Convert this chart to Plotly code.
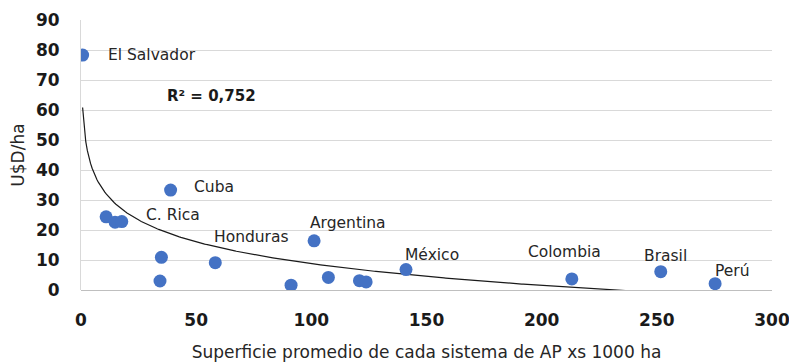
import numpy as np
import plotly.graph_objects as go

# Average surface of each protected-area system (x 1000 ha) vs. USD per ha
superficie = [0.7, 10.9, 14.8, 17.7, 34.9, 34.3, 38.9, 58.3, 91.2, 101.2,
              107.4, 120.9, 123.8, 141.1, 213.1, 251.7, 275.3]
usd_ha = [78.3, 24.4, 22.6, 22.8, 10.9, 3.0, 33.3, 9.1, 1.6, 16.4,
          4.2, 3.1, 2.7, 6.8, 3.7, 6.1, 2.1]

# Country labels and where their text sits (data units)
paises = ["El Salvador", "Cuba", "C. Rica", "Honduras", "Argentina",
          "México", "Colombia", "Brasil", "Perú"]
pais_x = [11.0, 48.2, 27.2, 57.0, 98.4, 140.0, 193.0, 243.6, 274.4]
pais_y = [78.3, 34.4, 25.0, 17.8, 22.2, 11.7, 12.6, 11.4, 6.4]

# Logarithmic trend line y = a + b*ln(x)
tend_a = 57.1
tend_b = -10.49
r2_texto = "R² = 0,752"

x_ticks = [0, 50, 100, 150, 200, 250, 300]
y_ticks = [0, 10, 20, 30, 40, 50, 60, 70, 80, 90]

FAM = "DejaVu Sans, sans-serif"

xt = np.linspace(min(superficie), max(superficie), 400)
yt = tend_a + tend_b * np.log(xt)

fig = go.Figure()
fig.add_trace(go.Scatter(
    x=xt, y=yt, mode="lines",
    line=dict(color="#1a1a1a", width=1.2),
    hoverinfo="skip", showlegend=False,
))
fig.add_trace(go.Scatter(
    x=superficie, y=usd_ha, mode="markers",
    marker=dict(color="#4472C4", size=13),
    showlegend=False,
))

font_lbl = dict(family=FAM, size=15.5, color="#262626")
for name, lx, ly in zip(paises, pais_x, pais_y):
    fig.add_annotation(x=lx, y=ly, text=name, showarrow=False,
                       xanchor="left", yanchor="middle", font=font_lbl)

fig.add_annotation(x=36.3, y=64.7, text="<b>" + r2_texto + "</b>",
                   showarrow=False, xanchor="left", yanchor="middle",
                   font=dict(family=FAM, size=15, color="#1a1a1a"))

fig.update_layout(
    width=789, height=362,
    margin=dict(l=81, r=17, t=20, b=72, autoexpand=False),
    paper_bgcolor="white", plot_bgcolor="white",
    font=dict(family=FAM, color="#262626"),
)
fig.update_xaxes(
    range=[0, 300], tickvals=x_ticks, automargin=False,
    tickfont=dict(size=17, color="#1a1a1a", family=FAM, weight="bold"),
    showgrid=False, zeroline=False,
    showline=False, ticks="", ticklabelstandoff=18,
    ticklabeloverflow="allow",
    title=dict(text="Superficie promedio de cada sistema de AP xs 1000 ha",
               font=dict(size=17, color="#262626"), standoff=17),
)
fig.update_yaxes(
    range=[0, 90], tickvals=y_ticks, automargin=False,
    tickfont=dict(size=17, color="#1a1a1a", family=FAM, weight="bold"),
    showgrid=True, gridcolor="#d9d9d9", gridwidth=1,
    zeroline=True, zerolinecolor="#bfbfbf", zerolinewidth=1,
    showline=True, linecolor="#d9d9d9", linewidth=1,
    ticks="", ticklabelstandoff=17,
    title=dict(text="U$D/ha", font=dict(size=17, color="#262626"), standoff=6),
)

fig.write_html("out.html")
